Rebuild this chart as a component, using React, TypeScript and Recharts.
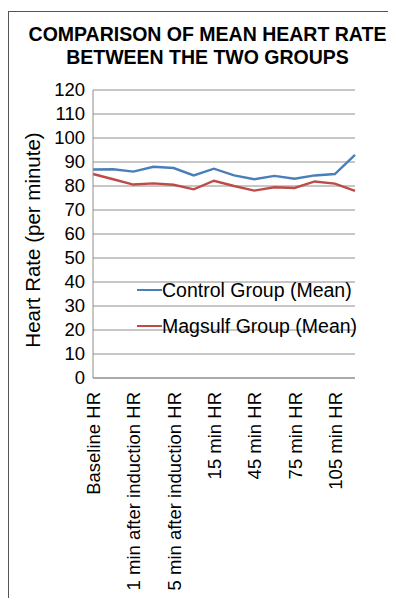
import React from "react";
import { LineChart, Line, XAxis, YAxis, CartesianGrid } from "recharts";

const timepoints = [
  "Baseline HR",
  "Pre-induction HR",
  "1 min after induction HR",
  "3 min after induction HR",
  "5 min after induction HR",
  "10 min HR",
  "15 min HR",
  "30 min HR",
  "45 min HR",
  "60 min HR",
  "75 min HR",
  "90 min HR",
  "105 min HR",
  "120 min HR",
];
const controlMean = [86.9, 87, 86, 88, 87.5, 84.4, 87.2, 84.4, 82.8, 84.2, 83, 84.4, 85, 93];
const magsulfMean = [85, 82.8, 80.6, 81.1, 80.5, 78.6, 82.2, 80, 78.1, 79.5, 79.2, 81.9, 81, 78];
const yTicks = [0, 10, 20, 30, 40, 50, 60, 70, 80, 90, 100, 110, 120];

const FONT = "'Liberation Sans', Arial, sans-serif";
const BLUE = "#4a7ebb";
const RED = "#be4b48";
const GRID = "#8e8e8e";

const series = [
  { key: "control", name: "Control Group (Mean)", color: BLUE },
  { key: "magsulf", name: "Magsulf Group (Mean)", color: RED },
];

const rows = timepoints.map((t, i) => ({
  time: t,
  control: controlMean[i],
  magsulf: magsulfMean[i],
}));

function XTick(props: any) {
  const { x, y, payload } = props;
  return (
    <text
      transform={`translate(${x + 7},${y + 6}) rotate(-90)`}
      textAnchor="end"
      fontSize={18.5}
      fontFamily={FONT}
      fill="#000"
    >
      {payload.value}
    </text>
  );
}

function YTick(props: any) {
  const { x, y, payload } = props;
  return (
    <text x={x} y={y} dy={6} textAnchor="end" fontSize={18.5} fontFamily={FONT} fill="#000">
      {payload.value}
    </text>
  );
}

// legend sits over the plot, gridlines run underneath it
function LegendBox() {
  return (
    <div
      style={{
        position: "absolute",
        left: 128,
        top: 260,
        fontFamily: FONT,
        fontSize: 19.5,
        color: "#000",
      }}
    >
      {series.map((s) => (
        <div key={s.key} style={{ display: "flex", alignItems: "center", height: 36 }}>
          <span style={{ display: "inline-block", width: 25, height: 2.5, background: s.color }} />
          <span style={{ whiteSpace: "nowrap" }}>{s.name}</span>
        </div>
      ))}
    </div>
  );
}

export default function App() {
  return (
    <div
      style={{
        position: "relative",
        top: 3,
        width: 388,
        height: 590,
        borderTop: "1px solid #555",
        borderLeft: "1px solid #555",
        boxSizing: "border-box",
        fontFamily: FONT,
      }}
    >
      <div
        style={{
          position: "absolute",
          left: 0,
          top: 11,
          width: 397,
          textAlign: "center",
          fontWeight: "bold",
          fontSize: 19.5,
          lineHeight: "23px",
          color: "#000",
        }}
      >
        COMPARISON OF MEAN HEART RATE
        <br />
        BETWEEN THE TWO GROUPS
      </div>
      <div style={{ position: "absolute", left: 0, top: 0 }}>
        <LineChart
          width={388}
          height={590}
          data={rows}
          margin={{ top: 78, right: 42, bottom: 14, left: 34 }}
        >
          <CartesianGrid vertical={false} stroke={GRID} strokeWidth={1} />
          <XAxis
            dataKey="time"
            interval={1}
            height={210}
            tickLine={false}
            axisLine={{ stroke: GRID }}
            tick={<XTick />}
          />
          <YAxis
            domain={[0, 120]}
            ticks={yTicks}
            interval={0}
            width={50}
            tickLine={false}
            axisLine={{ stroke: GRID }}
            tick={<YTick />}
            label={(p: any) => (
              <text
                transform={`translate(${p.viewBox.x - 3},${228}) rotate(-90)`}
                textAnchor="middle"
                fontSize={20.5}
                fontFamily={FONT}
                fill="#000"
              >
                Heart Rate (per minute)
              </text>
            )}
          />
          {series.map((s) => (
            <Line
              key={s.key}
              type="linear"
              dataKey={s.key}
              name={s.name}
              stroke={s.color}
              strokeWidth={2.4}
              dot={false}
              isAnimationActive={false}
            />
          ))}
        </LineChart>
      </div>
      <LegendBox />
    </div>
  );
}
